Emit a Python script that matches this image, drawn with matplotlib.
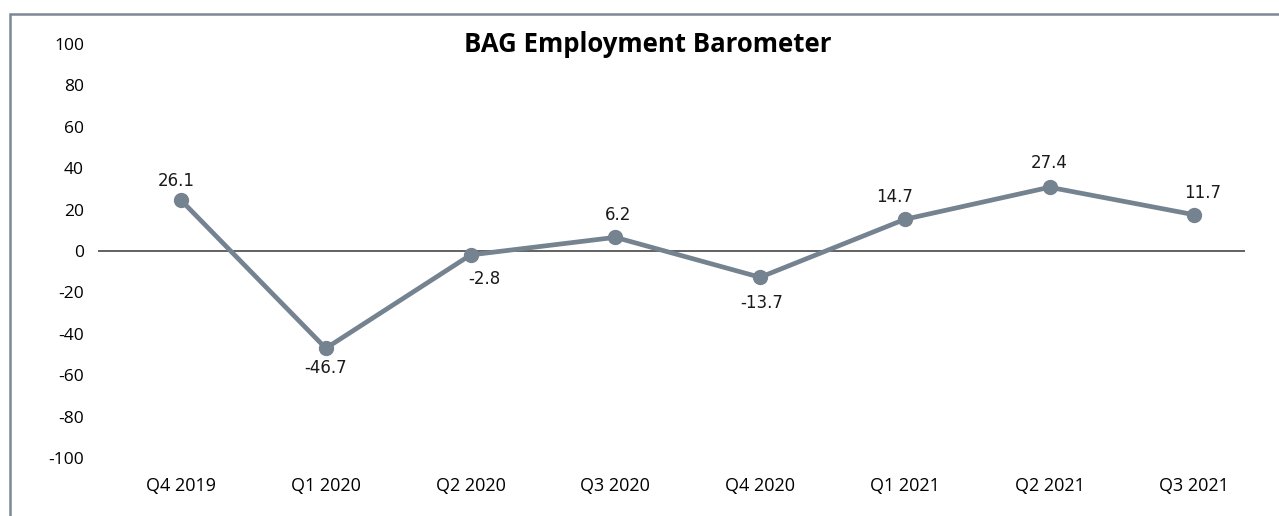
import matplotlib
matplotlib.use("Agg")
import matplotlib.pyplot as plt
from matplotlib.patches import Rectangle

quarters = ["Q4 2019", "Q1 2020", "Q2 2020", "Q3 2020",
            "Q4 2020", "Q1 2021", "Q2 2021", "Q3 2021"]
values = [24.5, -47.0, -1.9, 6.6, -12.7, 15.3, 30.8, 17.5]
value_labels = ["26.1", "-46.7", "-2.8", "6.2", "-13.7", "14.7", "27.4", "11.7"]
y_ticks = [100, 80, 60, 40, 20, 0, -20, -40, -60, -80, -100]

# label offsets in pixels (dx, dy), matching the reference placement
offsets = [(-5, 19), (0, -20), (14, -24), (3, 22),
           (2, -26), (-10, 22), (0, 24), (8, 22)]

W, H = 1279, 516
fig = plt.figure(figsize=(W / 100, H / 100), dpi=100)

# outer frame (open on right/bottom, as in the cropped reference)
fig.patches.append(Rectangle((10 / W, -0.2), 1.2, 1 - 14 / H + 0.2,
                             transform=fig.transFigure, fill=False,
                             edgecolor="#7d8894", linewidth=1.8))

ax = fig.add_axes([98 / W, 1 - 458 / H, (1245 - 98) / W, (458 - 44) / H])

line_color = "#75828f"
x = list(range(len(quarters)))
ax.plot(x, values, color=line_color, linewidth=3.4, marker="o",
        markersize=10, solid_capstyle="round", zorder=3)
ax.axhline(0, color="#555555", linewidth=1.3, zorder=2)

for xi, v, lab, (dx, dy) in zip(x, values, value_labels, offsets):
    ax.annotate(lab, (xi, v), xytext=(dx * 0.72, dy * 0.72),
                textcoords="offset points", ha="center", va="center",
                fontsize=12, family="DejaVu Sans", color="#1a1a1a")

ax.set_xlim(-0.574, 7.35)
ax.set_ylim(-100, 100)
ax.set_yticks(y_ticks)
ax.set_yticklabels([str(t) for t in y_ticks], family="Open Sans",
                   fontsize=12.5)
ax.set_xticks(x)
ax.set_xticklabels(quarters, family="Open Sans", fontsize=13)
ax.tick_params(axis="y", length=0, pad=10)
ax.tick_params(axis="x", length=0, pad=14)
for s in ax.spines.values():
    s.set_visible(False)

fig.text(648 / W, 1 - 44 / H, "BAG Employment Barometer", ha="center",
         va="center", fontsize=18.5, fontweight="bold", family="Open Sans")

fig.savefig("out.png", dpi=100)
